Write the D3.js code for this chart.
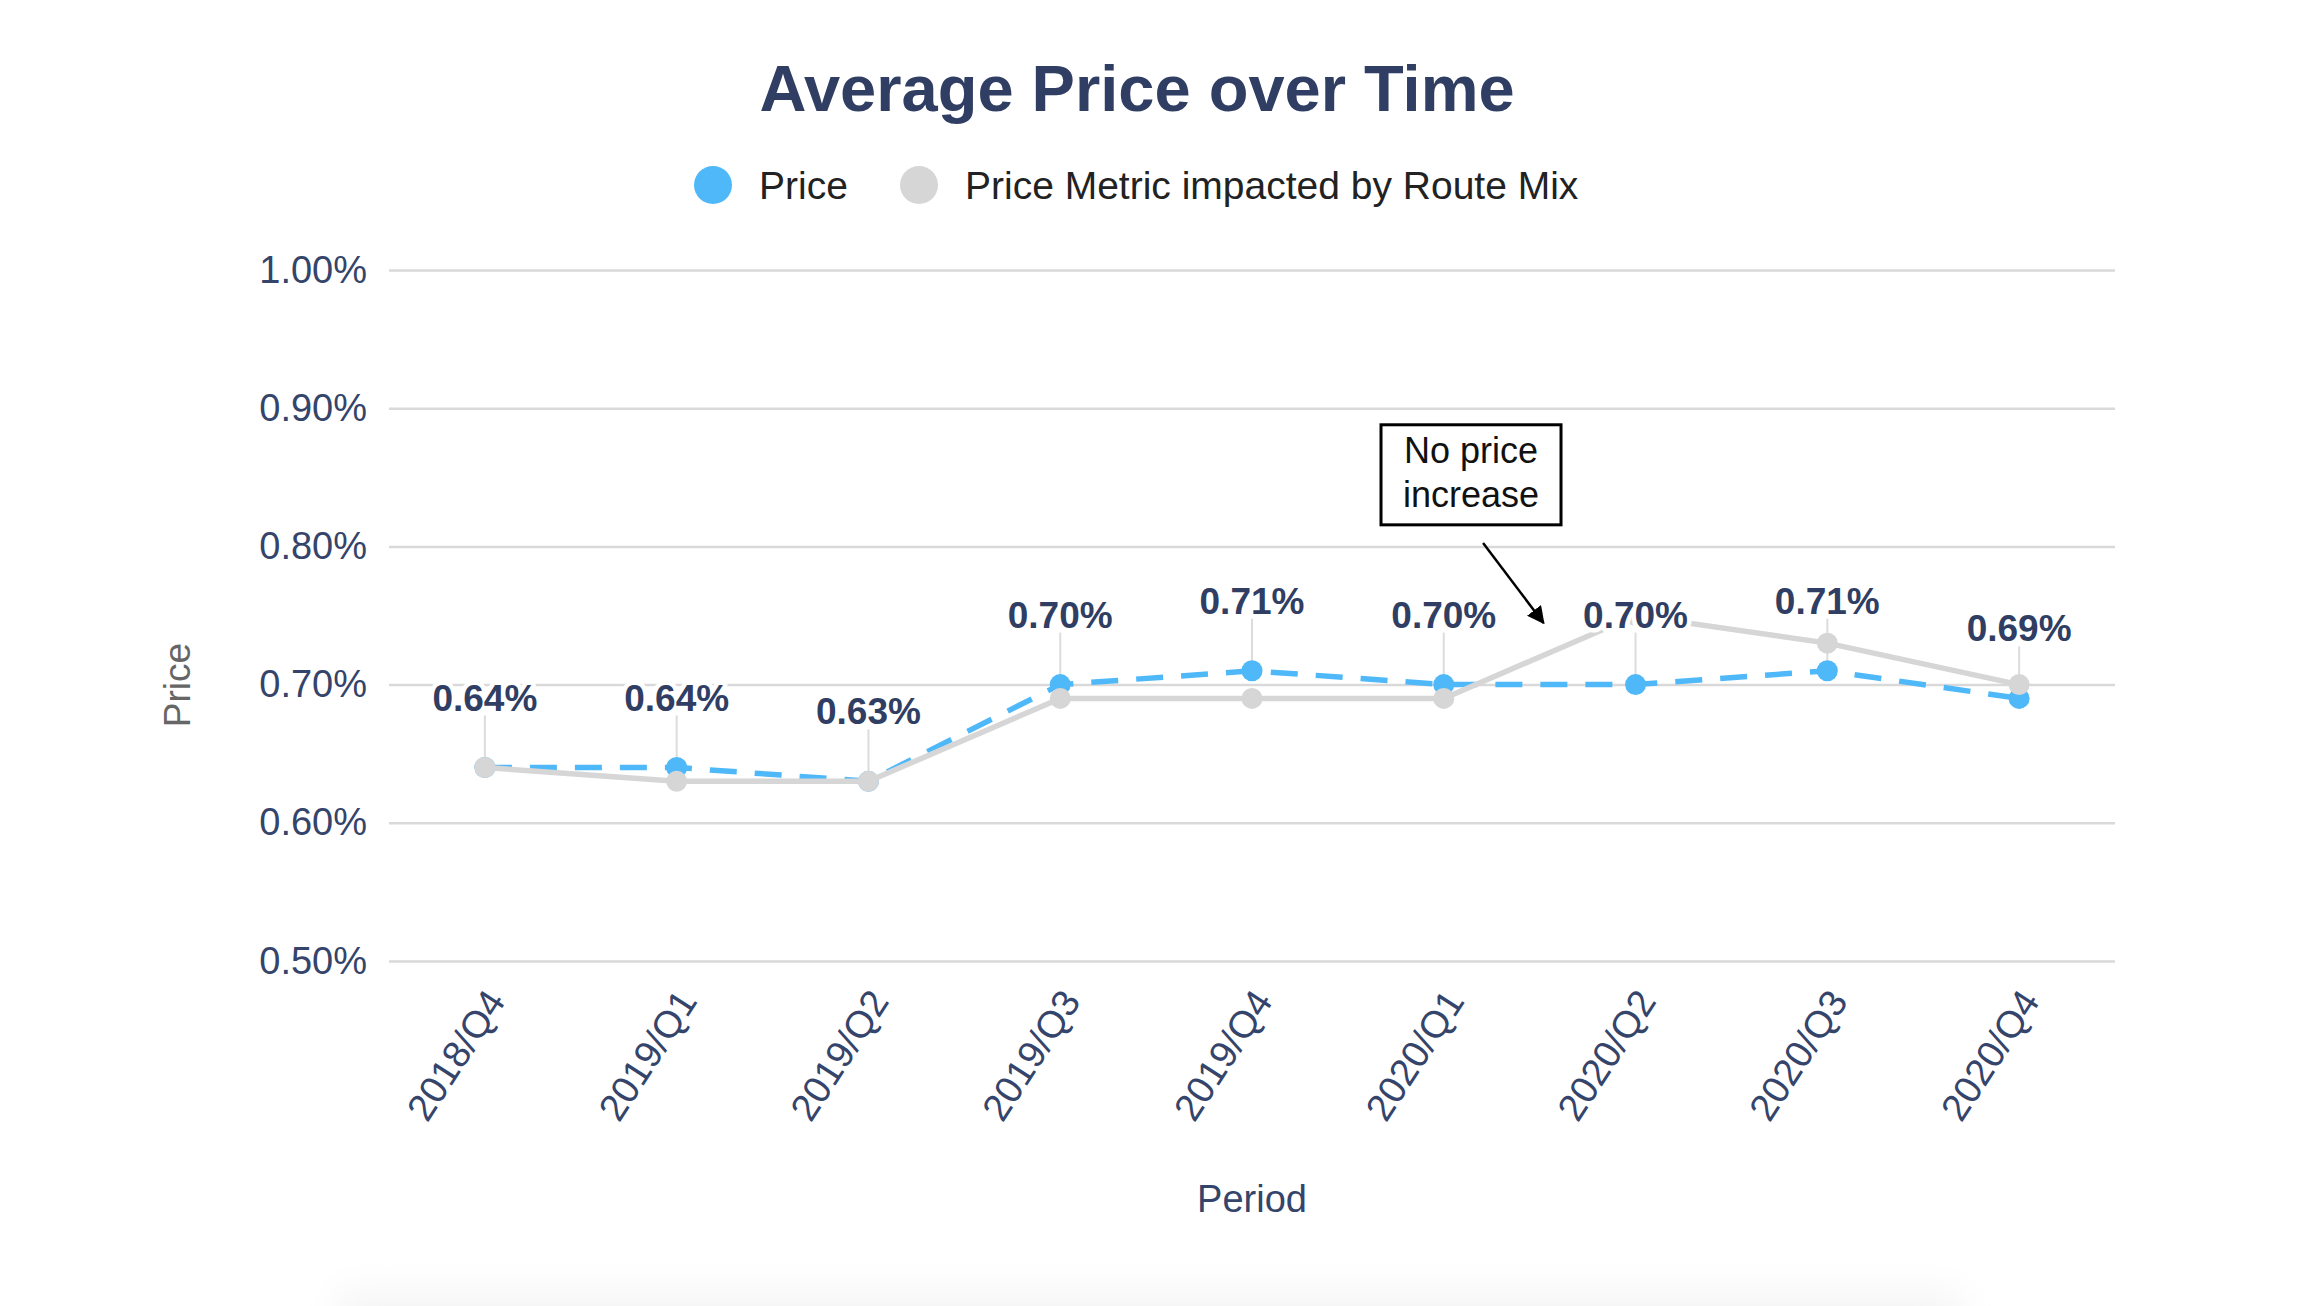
<!DOCTYPE html>
<html>
<head>
<meta charset="utf-8">
<script src="https://cdn.jsdelivr.net/npm/d3@7"></script>
<style>
  html, body { margin: 0; padding: 0; background: #fff; }
  svg { display: block; font-family: 'Liberation Sans', Arial, sans-serif; }
</style>
</head>
<body>
<svg id="chart" width="2322" height="1306"></svg>
<script>
const periods = ['2018/Q4', '2019/Q1', '2019/Q2', '2019/Q3', '2019/Q4',
  '2020/Q1', '2020/Q2', '2020/Q3', '2020/Q4'];
const price = [0.64, 0.64, 0.63, 0.70, 0.71, 0.70, 0.70, 0.71, 0.69];
const routeMix = [0.64, 0.63, 0.63, 0.69, 0.69, 0.69, 0.75, 0.73, 0.70];
const yTicks = [0.5, 0.6, 0.7, 0.8, 0.9, 1.0];
const seriesNames = ['Price', 'Price Metric impacted by Route Mix'];

const BLUE = '#4fb8f9';
const GREY = '#d6d6d6';
const NAVY = '#2f3e62';

const svg = d3.select('#chart');
const margin = { left: 389, right: 2115, top: 270, bottom: 961 };

const x = d3.scalePoint()
  .domain(periods)
  .range([margin.left, margin.right])
  .padding(0.5);
const step = x.step();
const y = d3.scaleLinear()
  .domain([0.5, 1.0])
  .range([margin.bottom, margin.top]);

// soft card shadow at the bottom edge
const defs = svg.append('defs');
defs.append('filter')
  .attr('id', 'blur')
  .attr('x', '-20%').attr('y', '-200%')
  .attr('width', '140%').attr('height', '500%')
  .append('feGaussianBlur')
  .attr('stdDeviation', 20);
svg.append('rect')
  .attr('x', 340).attr('y', 1295)
  .attr('width', 1620).attr('height', 60)
  .attr('fill', '#f3f3f3')
  .attr('filter', 'url(#blur)');

defs.append('marker')
  .attr('id', 'arrow')
  .attr('viewBox', '0 0 10 10')
  .attr('refX', 9).attr('refY', 5)
  .attr('markerWidth', 7).attr('markerHeight', 7)
  .attr('orient', 'auto')
  .append('path')
  .attr('d', 'M0,0 L10,5 L0,10 z')
  .attr('fill', '#000');

// title
svg.append('text')
  .attr('x', 1137).attr('y', 111)
  .attr('text-anchor', 'middle')
  .attr('font-size', 65)
  .attr('font-weight', 'bold')
  .attr('fill', NAVY)
  .text('Average Price over Time');

// legend
const legend = svg.append('g').attr('id', 'legend');
const legendItems = [
  { name: seriesNames[0], color: BLUE, cx: 713 },
  { name: seriesNames[1], color: GREY, cx: 919 },
];
legend.selectAll('circle')
  .data(legendItems)
  .enter()
    .append('circle')
    .attr('cx', (d) => d.cx)
    .attr('cy', 185)
    .attr('r', 19)
    .attr('fill', (d) => d.color);
legend.selectAll('text')
  .data(legendItems)
  .enter()
    .append('text')
    .attr('x', (d) => d.cx + 46)
    .attr('y', 199)
    .attr('font-size', 39)
    .attr('fill', '#222')
    .text((d) => d.name);

// grid + y axis
const yAxis = svg.append('g')
  .attr('transform', `translate(${margin.left},0)`)
  .call(d3.axisLeft(y)
    .tickValues(yTicks)
    .tickSize(-(margin.right - margin.left))
    .tickPadding(22)
    .tickFormat((d) => d3.format('.2f')(d) + '%'));
yAxis.select('.domain').remove();
yAxis.selectAll('.tick line')
  .attr('stroke', '#d9d9d9')
  .attr('stroke-width', 2.5);
yAxis.selectAll('.tick text')
  .attr('font-size', 38)
  .attr('font-family', 'Liberation Sans, Arial, sans-serif')
  .attr('fill', '#34446a');

svg.append('text')
  .attr('transform', 'translate(190,685) rotate(-90)')
  .attr('text-anchor', 'middle')
  .attr('font-size', 37)
  .attr('fill', '#666')
  .text('Price');

// x axis labels
const xAxis = svg.append('g')
  .attr('transform', `translate(0,${margin.bottom})`)
  .call(d3.axisBottom(x).tickSize(0).tickPadding(0));
xAxis.select('.domain').remove();
xAxis.selectAll('.tick text')
  .attr('font-size', 38)
  .attr('font-family', 'Liberation Sans, Arial, sans-serif')
  .attr('fill', '#34446a')
  .attr('text-anchor', 'end')
  .attr('dy', '0.35em')
  .attr('transform', 'translate(10,33) rotate(-57)');

svg.append('text')
  .attr('x', (margin.left + margin.right) / 2)
  .attr('y', 1212)
  .attr('text-anchor', 'middle')
  .attr('font-size', 38)
  .attr('fill', '#34446a')
  .text('Period');

// connectors for the data labels
svg.append('g')
  .selectAll('line')
  .data(price)
  .enter()
    .append('line')
    .attr('x1', (d, i) => x(periods[i]))
    .attr('x2', (d, i) => x(periods[i]))
    .attr('y1', (d) => y(d) - 52)
    .attr('y2', (d) => y(d))
    .attr('stroke', '#dcdcdc')
    .attr('stroke-width', 2);

const line = d3.line()
  .x((d, i) => x(periods[i]))
  .y((d) => y(d));

// price (dashed blue)
svg.append('path')
  .datum(price)
  .attr('d', line)
  .attr('fill', 'none')
  .attr('stroke', BLUE)
  .attr('stroke-width', 5.5)
  .attr('stroke-dasharray', '27,18');
svg.append('g')
  .selectAll('circle')
  .data(price)
  .enter()
    .append('circle')
    .attr('cx', (d, i) => x(periods[i]))
    .attr('cy', (d) => y(d))
    .attr('r', 10.5)
    .attr('fill', BLUE);

// route mix (solid grey)
svg.append('path')
  .datum(routeMix)
  .attr('d', line)
  .attr('fill', 'none')
  .attr('stroke', GREY)
  .attr('stroke-width', 5.5);
svg.append('g')
  .selectAll('circle')
  .data(routeMix)
  .enter()
    .append('circle')
    .attr('cx', (d, i) => x(periods[i]))
    .attr('cy', (d) => y(d))
    .attr('r', 10.5)
    .attr('fill', GREY);

// data labels for price
svg.append('g')
  .selectAll('text')
  .data(price)
  .enter()
    .append('text')
    .attr('x', (d, i) => x(periods[i]))
    .attr('y', (d) => y(d) - 57)
    .attr('text-anchor', 'middle')
    .attr('font-size', 37)
    .attr('font-weight', 'bold')
    .attr('fill', NAVY)
    .attr('stroke', '#fff')
    .attr('stroke-width', 9)
    .attr('stroke-linejoin', 'round')
    .attr('paint-order', 'stroke')
    .text((d) => d3.format('.2f')(d) + '%');

// annotation, placed in data units relative to 2020/Q1
const noteBase = x('2020/Q1');
const note = svg.append('g').attr('id', 'note');
note.append('rect')
  .attr('x', noteBase + 0.142 * step - 90)
  .attr('y', y(0.888))
  .attr('width', 180)
  .attr('height', y(0.8156) - y(0.888))
  .attr('fill', '#fff')
  .attr('stroke', '#000')
  .attr('stroke-width', 3);
note.selectAll('text')
  .data(['No price', 'increase'])
  .enter()
    .append('text')
    .attr('x', noteBase + 0.142 * step)
    .attr('y', (d, i) => y(0.888) + 38 + i * 44)
    .attr('text-anchor', 'middle')
    .attr('font-size', 36)
    .attr('fill', '#111')
    .text((d) => d);
note.append('line')
  .attr('x1', noteBase + 0.205 * step)
  .attr('y1', y(0.8025))
  .attr('x2', noteBase + 0.52 * step)
  .attr('y2', y(0.7446))
  .attr('stroke', '#000')
  .attr('stroke-width', 2.5)
  .attr('marker-end', 'url(#arrow)');
</script>
</body>
</html>
